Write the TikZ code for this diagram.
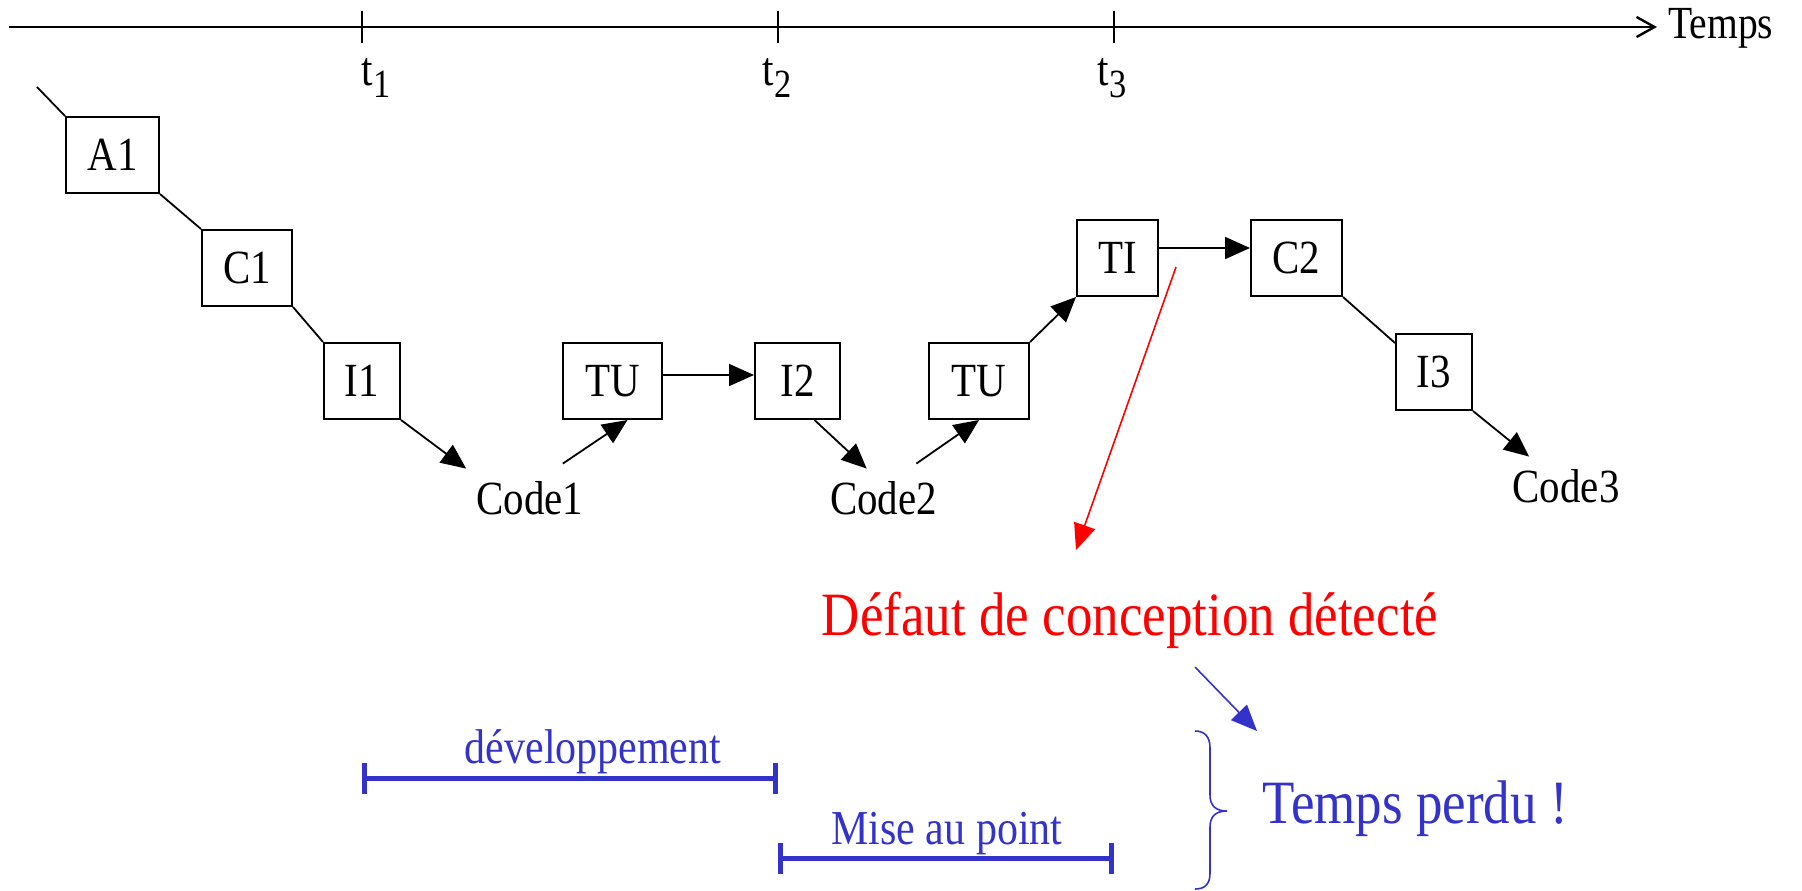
\documentclass[tikz,border=0pt]{standalone}
\usepackage{fontspec}
\setmainfont{Liberation Serif}[FakeStretch=0.86]
\usetikzlibrary{arrows.meta,calc}
\definecolor{bleu}{RGB}{51,51,204}
\definecolor{rouge}{RGB}{255,0,0}

\begin{document}
\begin{tikzpicture}[x=0.5pt,y=-0.5pt,
  box/.style={draw,line width=1pt,minimum height=38pt,inner sep=0pt,
    font=\fontsize{23.8}{28}\selectfont},
  codelbl/.style={inner xsep=5pt,inner ysep=6pt,anchor=base,
    font=\fontsize{23.8}{28}\selectfont},
  tlbl/.style={anchor=base,inner sep=0pt,font=\fontsize{24}{28}\selectfont},
  link/.style={line width=0.9pt},
  flow/.style={line width=0.9pt,-{Triangle[length=12.5pt,width=11pt]}},
  axis/.style={line width=1pt},
  span/.style={bleu,line width=2.5pt,{Bar[width=15.5pt]}-{Bar[width=15.5pt]}},
  spanlbl/.style={bleu,anchor=base,inner sep=0pt,font=\fontsize{24.4}{28}\selectfont},
  bigred/.style={rouge,anchor=base,inner sep=0pt,font=\fontsize{30.8}{36}\selectfont},
  bigblue/.style={bleu,anchor=base,inner sep=0pt,font=\fontsize{30.8}{36}\selectfont}]

\useasboundingbox[fill=white] (0,0) rectangle (1802,890);

% time axis
\coordinate (axstart) at (9,27);
\coordinate (axend) at (1657,27);
\draw[axis,-{Straight Barb[length=9pt,width=10pt,line width=1.2pt]}] (axstart) -- (axend);
\node[tlbl,anchor=base west,font=\fontsize{23}{28}\selectfont] (temps) at (1668,38) {Temps};
\coordinate (T1) at (362,27);
\coordinate (T2) at (778,27);
\coordinate (T3) at (1114,27);
\foreach \t in {T1,T2,T3}
  \draw[axis] ($(\t)+(0,-16)$) -- ($(\t)+(0,16)$);
\node[tlbl] (t1) at (376,85) {t{\fontsize{20}{22}\selectfont\raisebox{-6pt}{1}}};
\node[tlbl] (t2) at (777,85) {t{\fontsize{20}{22}\selectfont\raisebox{-6pt}{2}}};
\node[tlbl] (t3) at (1112,85) {t{\fontsize{20}{22}\selectfont\raisebox{-6pt}{3}}};

% activity boxes
\node[box,minimum width=46.5pt] (A1) at (112.5,155) {A1};
\node[box,minimum width=45pt] (C1) at (247,268) {C1};
\node[box,minimum width=38pt] (I1) at (362,381) {I1};
\node[box,minimum width=49.5pt] (TU1) at (612.5,381) {TU};
\node[box,minimum width=42.5pt] (I2) at (797.5,381) {I2};
\node[box,minimum width=50pt] (TU2) at (979,381) {TU};
\node[box,minimum width=40.5pt] (TI) at (1117.5,258) {TI};
\node[box,minimum width=45.5pt] (C2) at (1296.5,258) {C2};
\node[box,minimum width=38pt] (I3) at (1434,372) {I3};

% code deliverables
\node[codelbl] (code1) at (530,514) {Code1};
\node[codelbl] (code2) at (883.5,514) {Code2};
\node[codelbl] (code3) at (1566,502) {Code3};

% cycle connectors
\coordinate (in) at (37,87);
\draw[link] (in) -- (A1.north west);
\draw[link] (A1.south east) -- (C1.north west);
\draw[link] (C1.south east) -- (I1.north west);
\draw[flow] (I1.south east) -- (code1.north west);
\draw[flow] ($(code1.north east)+(-31,-5)$) -- ($(TU1.south)+(15,0)$);
\draw[flow] ([yshift=3pt]TU1.east) -- ([yshift=3pt]I2.west);
\draw[flow] ($(I2.south)+(17,0)$) -- ($(code2.north west)+(47,0)$);
\draw[flow] ($(code2.north east)+(-31,-5)$) -- (TU2.south);
\draw[flow] (TU2.north east) -- (TI.south west);
\draw[flow] ([yshift=5pt]TI.east) -- ([yshift=5pt]C2.west);
\draw[link] (C2.south east) -- ($(I3.north west)+(0,10)$);
\draw[flow] (I3.south east) -- ($(code3.north west)+(27,0)$);

% design defect found at integration testing
\node[bigred] (defaut) at (1130,635) {Défaut de conception détecté};
\coordinate (redfrom) at (1176,267);
\coordinate (redto) at (1076,550);
\draw[rouge,line width=0.8pt,-{Triangle[length=13pt,width=11pt]}] (redfrom) -- (redto);

\coordinate (bluefrom) at (1195,667);
\coordinate (blueto) at (1257,731);
\draw[bleu,line width=0.8pt,-{Triangle[length=13pt,width=11pt]}] (bluefrom) -- (blueto);

% spans
\coordinate (devA) at (362,778);
\coordinate (devB) at (778,778);
\coordinate (misA) at (778,858);
\coordinate (misB) at (1114,858);
\draw[span] (devA) -- (devB);
\draw[span] (misA) -- (misB);
\node[spanlbl] (dev) at (593,763) {développement};
\node[spanlbl] (mise) at (947,844) {Mise au point};

% brace and conclusion
\draw[bleu,line width=0.8pt] (1195,731) .. controls (1205,731) and (1210,737) .. (1210,748)
  -- (1210,795) .. controls (1210,805) and (1215,811) .. (1227,811)
  .. controls (1215,811) and (1210,817) .. (1210,827)
  -- (1210,873) .. controls (1210,884) and (1205,889) .. (1195,889);
\node[bigblue] (perdu) at (1415,823) {Temps perdu !};

\end{tikzpicture}
\end{document}
